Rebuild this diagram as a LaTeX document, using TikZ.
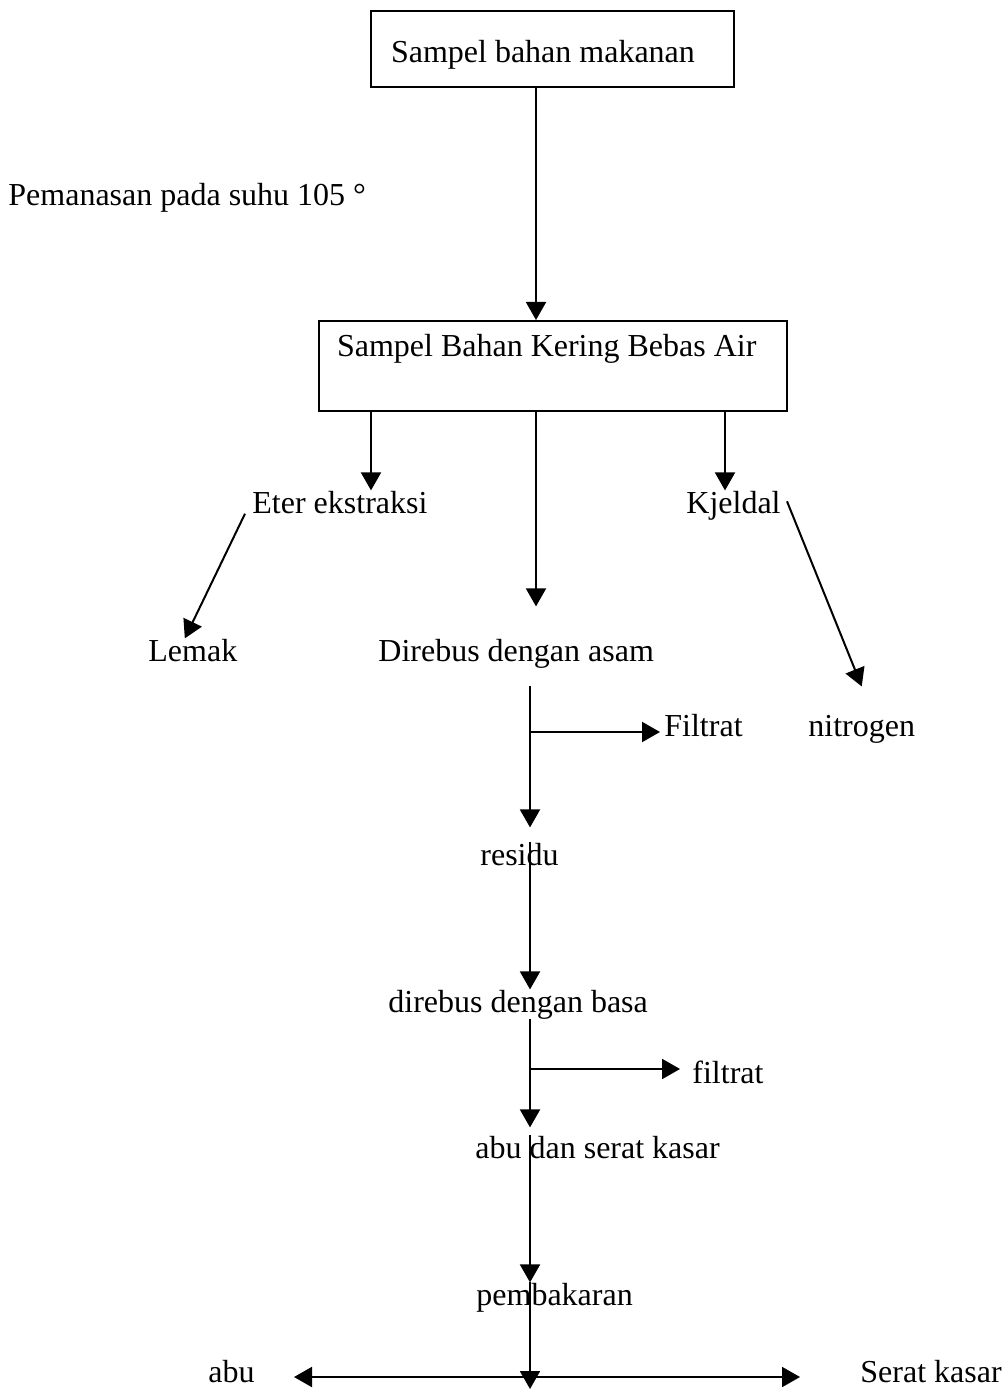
\documentclass[tikz,border=0pt]{standalone}
\usepackage{fontspec}
\setmainfont{Liberation Serif}
\usetikzlibrary{arrows.meta}

\tikzset{
  panah/.style={line width=1pt, -{Triangle[length=9pt,width=10pt]}},
  duapanah/.style={line width=1pt, {Triangle[length=9pt,width=10pt]}-{Triangle[length=9pt,width=10pt]}},
  kotak/.style={draw, line width=1pt, inner ysep=0pt, align=flush left, anchor=north west},
  teks/.style={inner sep=0pt, anchor=base west},
}

\begin{document}
\begin{tikzpicture}[x=0.5pt,y=-0.5pt,font=\fontsize{16}{19}\selectfont]
\useasboundingbox (0,0) rectangle (1007,1390);

\node[kotak, inner xsep=10pt, text width=161.5pt, text height=26pt, text depth=12pt] (sampel) at (370,10) {Sampel bahan makanan};
\node[kotak, inner xsep=9pt, text width=216pt, text height=18pt, text depth=27pt] (kering) at (318,320) {Sampel Bahan Kering Bebas Air};

\node[teks] (panas) at (8,206) {Pemanasan pada suhu 105 °};
\node[teks] (eter) at (252,513) {Eter ekstraksi};
\node[teks] (kjeldal) at (686,513) {Kjeldal};
\node[teks] (lemak) at (148,661) {Lemak};
\node[teks] (asam) at (378,661) {Direbus dengan asam};
\node[teks] (filtrat1) at (664,736) {Filtrat};
\node[teks] (nitrogen) at (808,736) {nitrogen};
\node[teks] (residu) at (480,865) {residu};
\node[teks] (basa) at (388,1012) {direbus dengan basa};
\node[teks] (filtrat2) at (692,1083) {filtrat};
\node[teks] (serat) at (475,1158) {abu dan serat kasar};
\node[teks] (bakar) at (476,1305) {pembakaran};
\node[teks] (abu) at (208,1382) {abu};
\node[teks] (kasar) at (860,1382) {Serat kasar};

\coordinate (xa) at (536,0);
\coordinate (xb) at (530,0);
\coordinate (xe) at (371,0);
\coordinate (xk) at (725,0);
\coordinate (cab1) at (530,732);
\coordinate (cab2) at (530,1069);
\coordinate (simpang) at (530,1377);
\coordinate (bawah) at (530,1389);

\draw[panah] (sampel.south -| xa) -- (kering.north -| xa);
\draw[panah] (kering.south -| xe) -- (eter.north -| xe);
\draw[panah, shorten >=16pt] (kering.south -| xa) -- (asam.north -| xa);
\draw[panah] (kering.south -| xk) -- (kjeldal.north -| xk);
\draw[panah] ([xshift=-3.5pt]eter.south west) -- ([xshift=-4pt]lemak.north);
\draw[panah] ([xshift=3pt,yshift=2pt]kjeldal.east) -- ([yshift=14pt]nitrogen.north);

\draw[panah, shorten <=9pt, shorten >=7.5pt] (asam.south -| xb) -- (residu.north -| xb);
\draw[panah, shorten >=2pt] (cab1) -- (filtrat1.west |- cab1);
\draw[panah] (residu.north -| xb) -- (basa.north -| xb);
\draw[panah, shorten >=4pt] (basa.south -| xb) -- (serat.north -| xb);
\draw[panah, shorten >=6pt] (cab2) -- (filtrat2.west |- cab2);
\draw[panah] (serat.north -| xb) -- (bakar.north -| xb);
\draw[panah] (bakar.north -| xb) -- (bawah);
\draw[duapanah, shorten <=19.5pt, shorten >=30pt] (abu.east |- simpang) -- (kasar.west |- simpang);
\end{tikzpicture}
\end{document}
